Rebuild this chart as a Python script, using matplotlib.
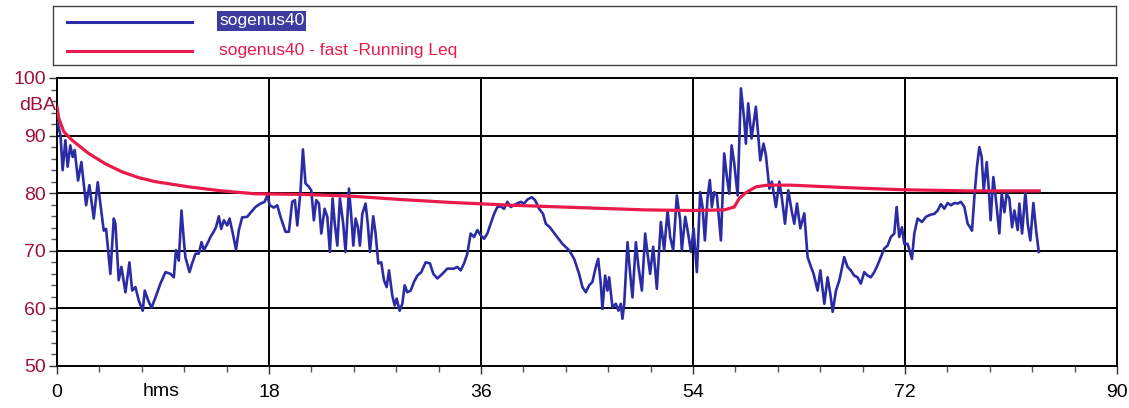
import matplotlib
matplotlib.use("Agg")
import matplotlib.pyplot as plt
from matplotlib.ticker import MultipleLocator
from matplotlib.transforms import blended_transform_factory

plt.rcParams['font.family'] = ['Liberation Sans', 'DejaVu Sans']

# Sound level trace (elapsed time, dBA)
elapsed = [
    0.05, 0.3, 0.48, 0.71, 0.9, 1.13, 1.33, 1.5, 1.79, 2.07, 2.47, 2.75, 3.12, 3.46, 3.68,
    3.97, 4.17, 4.53, 4.82, 4.96, 5.24, 5.47, 5.81, 6.15, 6.38, 6.66, 6.94, 7.28, 7.45,
    7.74, 8.02, 8.36, 8.78, 9.21, 9.63, 9.92, 10.1, 10.34, 10.57, 10.77, 10.9, 11.25,
    11.47, 11.76, 12.04, 12.27, 12.47, 12.83, 13.03, 13.3, 13.5, 13.74, 13.94, 14.17,
    14.45, 14.65, 14.93, 15.2, 15.44, 15.72, 16.15, 16.43,
    16.85, 17.28, 17.62, 17.85, 18.07, 18.41, 18.7, 18.98, 19.4, 19.69, 19.97, 20.2, 20.4,
    20.68, 20.88, 21.1, 21.39, 21.59, 21.81, 22.01, 22.24, 22.44, 22.72, 22.95, 23.17,
    23.4, 23.57, 23.8, 24.02, 24.3, 24.5, 24.79, 24.99, 25.16, 25.35, 25.55, 25.72, 25.92,
    26.2, 26.4, 26.57, 26.85, 27.05, 27.28, 27.53, 27.76, 27.99, 28.19, 28.47, 28.67,
    28.84, 29.09, 29.32, 29.52, 29.74, 30.03, 30.31, 30.6, 30.93, 31.3, 31.67, 31.95,
    32.3, 32.72, 33.14,
    33.7, 33.99, 34.27, 34.56, 34.84, 35.12, 35.41, 35.69, 35.97, 36.26, 36.54, 36.82,
    37.11, 37.39, 37.67, 37.96, 38.24, 38.52, 38.95, 39.37, 39.66, 39.94, 40.31, 40.59,
    40.93, 41.27, 41.5, 41.84, 42.35, 42.92, 43.48, 43.91, 44.33, 44.61, 44.9, 45.18,
    45.46, 45.75, 45.95, 46.17, 46.31, 46.54, 46.74, 46.88, 47.16, 47.45, 47.67, 47.87,
    48.01, 48.16, 48.44, 48.64, 48.86, 49.15, 49.37, 49.66, 49.94,
    50.14, 50.36, 50.62, 50.93, 51.27, 51.55, 51.84, 52.06, 52.32, 52.63, 52.91, 53.05,
    53.34, 53.59, 53.82, 54.05, 54.19, 54.33, 54.61, 54.81, 55.01, 55.24, 55.43, 55.6,
    55.8, 56.03, 56.37, 56.65, 56.88, 57.08, 57.28, 57.5, 57.79, 58.07, 58.35, 58.49,
    58.69, 58.97, 59.34, 59.71, 59.99, 60.19, 60.48, 60.7, 61.04, 61.33, 61.55, 61.81,
    62.09, 62.37, 62.6, 62.83, 63.11, 63.45, 63.73, 64.02, 64.24, 64.58, 64.81, 65.15,
    65.43, 65.66, 65.86, 66.14, 66.43,
    66.84, 67.12, 67.4, 67.69, 67.97, 68.25, 68.54, 68.82, 69.1, 69.39, 69.67, 69.95,
    70.24, 70.52, 70.8, 71.09, 71.29, 71.51, 71.74, 71.94, 72.22, 72.59, 72.79, 73.07,
    73.44, 73.78, 74.2, 74.49, 74.77, 75.05, 75.34, 75.62, 75.9, 76.19, 76.47, 76.75,
    77.04, 77.32, 77.52, 77.69, 77.89, 78.11, 78.31, 78.51, 78.68, 78.94, 79.1, 79.27,
    79.5, 79.67, 79.87, 80.01, 80.21, 80.44, 80.63, 80.86, 81.09, 81.29, 81.57, 81.71,
    81.94, 82.22, 82.42, 82.64, 82.9, 83.13, 83.36,
]
level_dba = [
    92.3, 90.0, 84.0, 89.2, 84.6, 88.3, 86.3, 87.5, 82.2, 85.4, 77.9, 81.4, 75.6, 81.9, 78.2,
    73.5, 73.8, 66.0, 75.6, 74.7, 64.9, 67.2, 62.8, 68.0, 63.1, 63.7, 61.4, 59.6, 63.1,
    61.4, 60.1, 61.9, 64.3, 66.3, 66.0, 65.4, 70.1, 68.3, 77.0, 71.8, 68.9, 66.3,
    67.8, 69.5, 69.5, 71.5, 70.1, 71.5, 72.4, 73.3, 74.1, 76.0, 73.8, 75.3,
    74.4, 75.6, 73.0, 70.2, 73.6, 75.8, 75.9, 76.6,
    77.6, 78.2, 78.5, 79.6, 77.9, 77.5, 77.9, 75.9, 73.3, 73.3, 78.5, 78.8, 74.4,
    80.5, 87.6, 81.7, 81.1, 80.5, 75.3, 78.8, 78.2, 73.0, 77.3, 75.9, 69.8,
    79.1, 75.0, 70.9, 79.1, 74.7, 69.8, 80.8, 75.9, 70.9, 75.6, 74.1, 70.9, 76.4,
    78.2, 74.4, 69.8, 76.0, 73.0, 67.8, 68.0, 64.9, 63.7, 66.6, 62.2, 60.5,
    61.7, 59.6, 60.8, 64.0, 62.8, 63.1, 64.6, 65.7, 66.3, 68.0, 67.8, 66.0,
    65.2, 66.0, 66.9,
    66.9, 67.2, 66.6, 67.8, 69.5, 73.0, 72.4, 73.6, 72.7, 72.1, 73.0, 74.7,
    76.4, 77.6, 77.7, 77.3, 78.5, 77.6, 78.1, 78.5, 78.2, 78.9, 79.3, 78.8,
    77.3, 76.4, 74.7, 74.1, 72.7, 71.2, 70.1, 68.6, 66.0, 63.7, 62.8, 64.0,
    64.6, 67.2, 68.6, 64.3, 59.9, 65.7, 63.1, 65.4, 60.2, 60.8, 59.6, 60.8,
    58.2, 60.8, 71.5, 66.6, 61.9, 71.5, 67.2, 63.1, 73.0,
    69.5, 66.0, 70.7, 63.4, 75.0, 70.1, 77.0, 72.4, 70.1, 79.6, 75.3, 70.1,
    75.9, 73.0, 69.8, 73.9, 70.1, 66.3, 80.2, 77.6, 71.8, 79.3, 82.3, 77.6,
    80.2, 79.6, 71.8, 86.9, 82.8, 79.9, 88.3, 85.2, 79.6, 98.2, 92.7, 88.6,
    95.6, 89.5, 95.0, 85.7, 88.6, 86.6, 80.8, 82.0, 77.6, 82.0, 79.1, 74.7,
    80.5, 77.0, 74.7, 78.2, 73.9, 76.5, 68.9, 67.2, 66.0, 63.1, 66.6, 60.8,
    65.4, 62.5, 59.4, 63.1, 64.9,
    68.9, 67.2, 66.6, 65.7, 65.4, 64.3, 66.3, 65.7, 65.4, 66.3, 67.5, 68.9,
    70.4, 70.9, 72.4, 73.0, 77.6, 72.4, 74.1, 71.2, 71.2, 68.6, 73.0, 75.6,
    75.0, 75.9, 76.3, 76.4, 77.0, 78.1, 77.3, 78.3, 77.9, 78.3, 78.2, 78.5,
    77.6, 74.7, 74.1, 73.5, 79.3, 84.6, 88.0, 86.3, 80.5, 85.4, 81.1, 75.3,
    82.8, 79.9, 75.9, 73.0, 79.9, 76.7, 79.9, 79.1, 74.1, 77.0, 73.6, 78.2,
    73.0, 80.2, 74.7, 71.8, 78.3, 73.6, 69.8,
]

# Running Leq of the fast-weighted level
leq_time = [0.0, 0.15, 0.57, 1.28, 2.69, 4.11, 5.53, 6.94, 8.36, 11.19, 14.0, 16.8,
            20.68, 24.9, 29.2, 33.4, 38.7, 44.3, 50.0, 53.8, 56.65, 57.5, 57.93, 58.5,
            59.34, 60.3, 62.3, 66.6, 71.8, 77.5, 83.4]
leq_dba = [95.0, 93.0, 90.7, 89.2, 86.9, 85.1, 83.7, 82.7, 82.0, 81.1, 80.4, 79.9,
           79.8, 79.5, 78.9, 78.4, 77.9, 77.5, 77.1, 77.0, 77.1, 77.6, 79.1, 80.1,
           81.1, 81.4, 81.4, 81.0, 80.6, 80.4, 80.4]

x_ticks = [0, 18, 36, 54, 72, 90]
y_ticks = [50, 60, 70, 80, 90, 100]
series_names = ["sogenus40", "sogenus40 - fast -Running Leq"]

BLUE = "#2b2ba6"
RED = "#ea1a4b"
LABEL_RED = "#9c1238"

W, H = 1129, 408
fig = plt.figure(figsize=(W / 100, H / 100), dpi=100)
fig.patch.set_facecolor("white")

ax = fig.add_axes([57 / W, 42 / H, 1060 / W, 288 / H])
ax.set_xlim(x_ticks[0], x_ticks[-1])
ax.set_ylim(y_ticks[0], y_ticks[-1])

# grid lines at inner major ticks
for xv in x_ticks[1:-1]:
    ax.axvline(xv, color="black", lw=1.4, zorder=1)
for yv in y_ticks[1:-1]:
    ax.axhline(yv, color="black", lw=1.4, zorder=1)

ax.plot(elapsed, level_dba, color=BLUE, lw=1.9, zorder=3, solid_joinstyle="round")
ax.plot(leq_time, leq_dba, color=RED, lw=2.3, zorder=4, solid_joinstyle="round")

for sp in ax.spines.values():
    sp.set_color("black")
    sp.set_linewidth(1.4)

ax.set_xticks(x_ticks)
ax.set_yticks(y_ticks)
ax.xaxis.set_minor_locator(MultipleLocator(3.6))
ax.yaxis.set_minor_locator(MultipleLocator(2))
ax.tick_params(axis="both", which="major", direction="out", length=6, width=1, color="#333333")
ax.tick_params(axis="both", which="minor", direction="out", length=4, width=1, color="#555555")
ax.tick_params(axis="y", which="major", labelsize=14, labelcolor=LABEL_RED, pad=2)
ax.tick_params(axis="x", which="major", labelsize=14, labelcolor="black", pad=7)

# unit labels
yt = blended_transform_factory(fig.transFigure, ax.transData)
fig.text(38 / W, 95.3, "dBA", transform=yt, color=LABEL_RED, fontsize=14,
         ha="center", va="center")
xt = blended_transform_factory(ax.transData, fig.transFigure)
fig.text(8.8, (H - 391) / H, "hms", transform=xt, color="black", fontsize=14,
         ha="center", va="center")

# legend box above the plot
lax = fig.add_axes([53 / W, (H - 65) / H, 1063 / W, 59 / H])
lax.set_xlim(0, 1063)
lax.set_ylim(59, 0)
lax.set_xticks([])
lax.set_yticks([])
for sp in lax.spines.values():
    sp.set_color("#444444")
    sp.set_linewidth(1.0)
lax.plot([14, 139], [16, 16], color=BLUE, lw=2.2)
lax.plot([14, 139], [45, 45], color=RED, lw=2.2)
lax.text(166, 15, series_names[0], color="white", fontsize=12.5, va="center", ha="left",
         bbox=dict(boxstyle="square,pad=0.12", facecolor="#3c3ca0", edgecolor="none"))
lax.text(166, 44, series_names[1], color=RED, fontsize=12.5, va="center", ha="left")

fig.savefig("out.png", dpi=100)
